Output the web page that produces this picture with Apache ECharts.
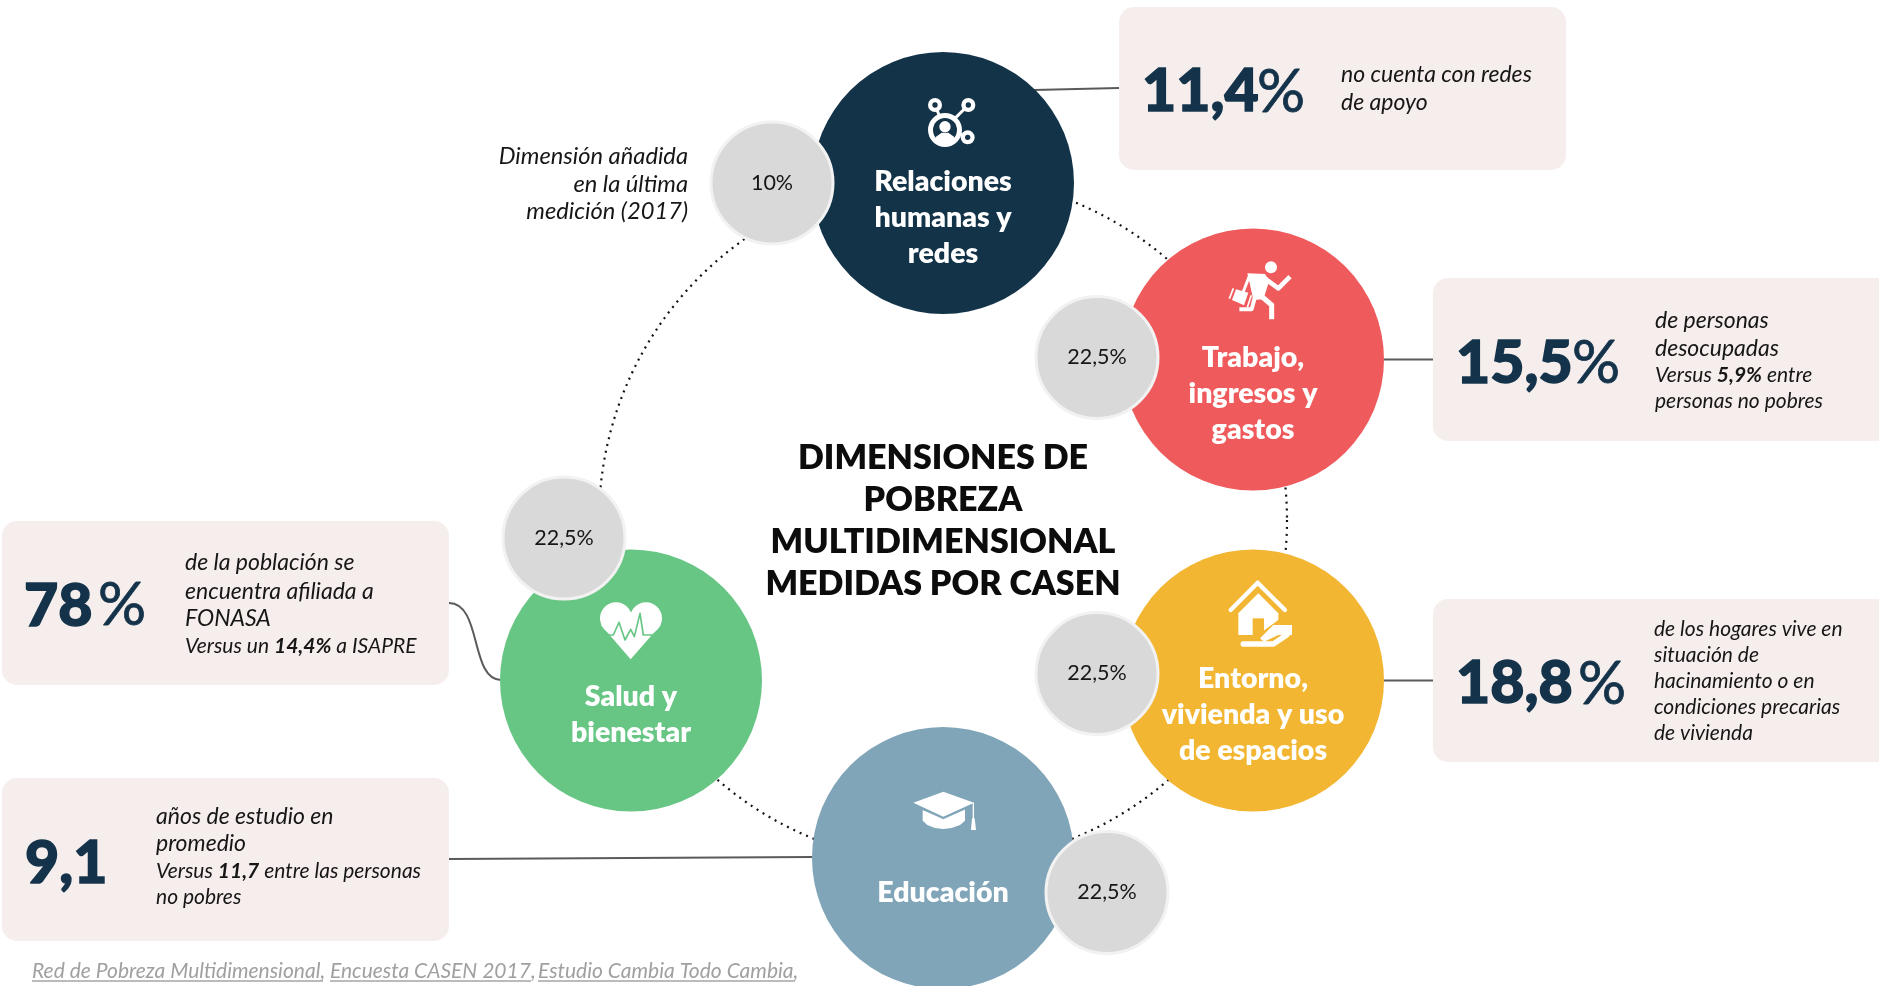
<!DOCTYPE html>
<html><head><meta charset="utf-8">
<style>html,body{margin:0;padding:0;background:#fff}#c{width:1879px;height:986px}</style>
<script src="https://cdn.jsdelivr.net/npm/echarts@6/dist/echarts.min.js"></script>
</head><body><div id="c"></div>
<script>
// ---- data ----
const dimensions = ['Relaciones\nhumanas y\nredes','Trabajo,\ningresos y\ngastos','Entorno,\nvivienda y uso\nde espacios','Educación','Salud y\nbienestar'];
const weights = [10,22.5,22.5,22.5,22.5];
const headlineNumbers = ['11,4','15,5','18,8','9,1','78'];
const headlineUnits = ['%','%','%','','%'];
const headlineLines = [
 ['no cuenta con redes','de apoyo'],
 ['de personas','desocupadas'],
 ['de los hogares vive en','situación de','hacinamiento o en','condiciones precarias','de vivienda'],
 ['años de estudio en','promedio'],
 ['de la población se','encuentra afiliada a','FONASA']
];
const comparisonLines = [
 [],
 ['Versus {b|5,9%} entre','personas no pobres'],
 [],
 ['Versus {b|11,7} entre las personas','no pobres'],
 ['Versus un {b|14,4%} a ISAPRE']
];
const titleLines = ['DIMENSIONES DE','POBREZA','MULTIDIMENSIONAL','MEDIDAS POR CASEN'];
const noteLines = ['Dimensión añadida','en la última','medición (2017)'];
const sources = ['Red de Pobreza Multidimensional,','Encuesta CASEN 2017,','Estudio Cambia Todo Cambia,'];

// ---- layout (pixels of the page) ----
const nodeX=[943,1253,1253,943,631], nodeY=[183,359.5,680.5,858,680.5];
const weightX=[772,1097,1097,1107,564], weightY=[183,357.5,673.5,892.5,538];
const colors=['#133349','#ef5b5c','#f2b632','#80a5b8','#68c685'];
const cards=[[1119,7,447,163],[1433,278,460,163],[1433,599,460,163],[2,778,447,163],[2,521,447,164]];
const numPos=[[1142,110,1257],[1456,382,1572],[1456,702,1578],[25,882,0],[24,625,98]];
const pctBase=[112,383,704,0,625];
const textX=[1341,1655,1654,156,185];
const lineYs=[[75,103],[321,349,375,401],[629,655,681,707,733],[816.5,844,871,897],[563,591.5,619,646]];
const textSize=[23,23,21,23,23], compSize=[21,21,21,21,21];
const INK='#14334a', TXT='#161616', W='#fff';
const F='Lato';

function txt(x,y,t,o){o=o||{};return {type:'text',z:o.z||20,x:x,y:y,style:Object.assign({text:t,fontFamily:F,fontSize:23,fontWeight:400,fontStyle:'normal',fill:TXT,align:'left',verticalAlign:'middle'},o.style||{})};}
const g=[];
// connectors
function ln(a,b,c,d){g.push({type:'line',z:5,shape:{x1:a,y1:b,x2:c,y2:d},style:{stroke:'#5a5a5a',lineWidth:2}});}
ln(1034,90,1119,88);ln(1384,359.5,1434,359.5);ln(1384,680.5,1433,680.5);ln(449,859,812,857);
g.push({type:'bezierCurve',z:5,shape:{x1:449,y1:603,cpx1:482,cpy1:603,cpx2:470,cpy2:680,x2:501,y2:680},style:{stroke:'#5a5a5a',lineWidth:2,fill:null}});
// cards
cards.forEach((c,i)=>{
 g.push({type:'rect',z:6,shape:{x:c[0],y:c[1],width:c[2],height:c[3],r:15},style:{fill:'#f6eeec'}});
 const p=numPos[i];
 g.push(txt(p[0],p[1]-18,headlineNumbers[i],{style:{fontWeight:900,fontSize:59,fill:INK,stroke:INK,lineWidth:1.5}}));
 if(headlineUnits[i]) g.push(txt(p[2],pctBase[i]-19,headlineUnits[i],{style:{fontWeight:400,fontSize:60,fill:INK,stroke:INK,lineWidth:0.8}}));
 const ys=lineYs[i];let k=0;
 headlineLines[i].forEach(l=>{g.push(txt(textX[i],ys[k++],l,{style:{fontStyle:'italic',fontWeight:400,fontSize:textSize[i]}}));});
 comparisonLines[i].forEach(l=>{g.push(txt(textX[i],ys[k++],l,{style:{fontStyle:'italic',fontWeight:400,fontSize:compSize[i],rich:{b:{fontFamily:F,fontStyle:'italic',fontWeight:700,fontSize:compSize[i],fill:TXT}}}}));});
});
// title
const tY=[458,500,542,584];
titleLines.forEach((l,i)=>g.push(txt(943,tY[i],l,{style:{fontWeight:800,fontSize:34,fill:'#0c0c0c',align:'center'}})));
// note
const nY=[156,184,211];
noteLines.forEach((l,i)=>g.push(txt(688,nY[i],l,{style:{fontStyle:'italic',fontWeight:400,fontSize:23.7,align:'right'}})));
// sources
const sX=[32,330,538], sE=[323,531,795];
sources.forEach((s,i)=>{
 g.push(txt(sX[i],971,s,{style:{fontStyle:'italic',fontWeight:400,fontSize:21,fill:'#a0a0a0'}}));
 g.push({type:'line',z:20,shape:{x1:sX[i],y1:981,x2:sE[i],y2:981},style:{stroke:'#a5a5a5',lineWidth:1.5}});
});
// icons: drawn in 3x zoom units inside a scaled group
function icon(x,y,children){g.push({type:'group',x:x,y:y,scaleX:1/3,scaleY:1/3,z:20,children:children.map(c=>Object.assign({z:20},c))});}
const circ=(cx,cy,r,fill)=>({type:'circle',shape:{cx,cy,r},style:{fill}});
const poly=(pts,fill)=>({type:'polygon',shape:{points:pts},style:{fill}});
const pl=(pts,w,col,cap)=>({type:'polyline',shape:{points:pts},style:{stroke:col||W,lineWidth:w,fill:null,lineCap:cap||'butt',lineJoin:'round'}});
// network
const nb=colors[0];
icon(900,80,[
 pl([[105,75],[135,150]],9),pl([[205,75],[150,130]],9),pl([[203,172],[150,150]],9),
 circ(105,75,21,W),circ(105,75,8,nb),circ(205,75,21,W),circ(205,75,8,nb),circ(203,172,21,W),circ(203,172,8,nb),
 circ(135,150,51,W),circ(135,150,36,nb),circ(135,140,17,W),
 poly([[105,185],[108,170],[125,158],[145,158],[162,170],[165,185],[150,196],[120,196]],W)
]);
// runner
icon(1210,250,[
 circ(183,52,18,W),
 pl([[160,82],[205,115],[240,80]],14),
 poly([[112,70],[165,72],[178,92],[160,148],[130,150],[118,95]],W),
 pl([[150,135],[185,165],[185,208]],15),
 pl([[135,140],[125,178],[88,178]],12),
 pl([[118,78],[100,125]],9),
 poly([[78,118],[115,128],[102,166],[66,150]],W),
 pl([[70,115],[58,146]],5),pl([[124,136],[112,172]],5)
]);
// house and hand
const yb=colors[2];
icon(1210,570,[
 pl([[62,120],[143,38],[225,120]],13,W,'round'),
 poly([[85,130],[145,70],[205,130],[205,195],[85,195]],W),
 {type:'rect',shape:{x:128,y:145,width:34,height:52},style:{fill:yb}},
 poly([[205,150],[250,158],[250,205],[150,222],[130,205]],yb),
 poly([[246,165],[190,165],[150,205],[162,215],[205,195],[246,195]],W),
 pl([[100,222],[190,222],[230,195]],17,W,'round')
]);
// heart
const gb=colors[4];
icon(590,590,[
 circ(78,85,48,W),circ(168,85,48,W),
 poly([[33,105],[122,208],[212,105],[122,70]],W),
 pl([[30,135],[70,135],[87,97],[105,150],[122,118],[133,140],[150,70],[160,135],[200,135]],5,gb)
]);
// cap
icon(900,780,[
 poly([[68,90],[130,113],[195,88],[195,122],[180,135],[155,144],[130,147],[105,144],[82,135],[68,122]],W),
 pl([[60,82],[130,114],[205,80]],7,colors[3]),
 poly([[130,35],[222,68],[130,110],[40,68]],W),
 pl([[220,68],[220,125]],4),
 poly([[216,115],[224,115],[228,150],[213,150]],W)
]);

const nodeData=dimensions.map((d,i)=>({name:d,value:[nodeX[i],nodeY[i]],itemStyle:{color:colors[i],opacity:1}}));
const weightData=weights.map((w,i)=>({name:dimensions[i],value:[weightX[i],weightY[i],w]}));

echarts.init(document.getElementById('c'),null,{renderer:'canvas'}).setOption({
 animation:false,backgroundColor:'#fff',
 grid:{left:0,right:0,top:0,bottom:0},
 xAxis:{type:'value',min:0,max:1879,show:false},
 yAxis:{type:'value',min:0,max:986,inverse:true,show:false},
 polar:{center:[943,520],radius:344},
 angleAxis:{type:'value',min:0,max:360,axisLine:{show:true,lineStyle:{color:'#111',width:2.2,type:[2,5]}},axisTick:{show:false},axisLabel:{show:false},splitLine:{show:false}},
 radiusAxis:{type:'value',show:false,min:0,max:1,splitLine:{show:false},axisLine:{show:false}},
 series:[
  {type:'scatter',name:'Dimensiones',z:8,symbolSize:262,data:nodeData,clip:false,
   label:{show:true,position:'inside',offset:[0,34.5],formatter:p=>p.name,color:'#fff',fontFamily:F,fontWeight:800,fontSize:28.5,lineHeight:36,align:'center'}},
  {type:'scatter',name:'Ponderación',z:9,symbolSize:122,data:weightData,clip:false,
   itemStyle:{color:'#d9d9d9',opacity:1,borderColor:'#f2f2f2',borderWidth:3},
   label:{show:true,position:'inside',formatter:p=>String(p.value[2]).replace('.',',')+'%',color:'#161616',fontFamily:F,fontWeight:400,fontSize:21.5}}
 ],
 graphic:{elements:g}
});
</script></body></html>
